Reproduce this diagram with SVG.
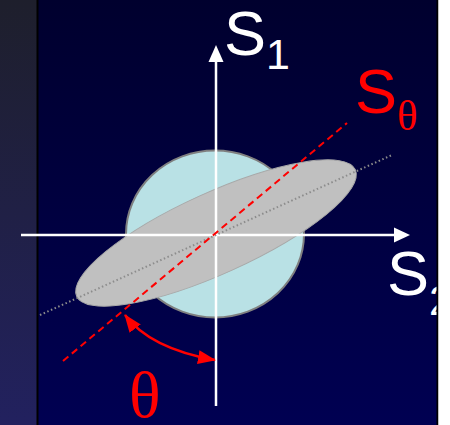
<svg xmlns="http://www.w3.org/2000/svg" width="450" height="425" viewBox="0 0 450 425">
<defs>
<linearGradient id="gLeft" x1="0" y1="0" x2="0" y2="1">
<stop offset="0" stop-color="#1e1f2c"/>
<stop offset="1" stop-color="#22215f"/>
</linearGradient>
<linearGradient id="gMain" x1="0" y1="0" x2="0" y2="1">
<stop offset="0" stop-color="#00002e"/>
<stop offset="1" stop-color="#000052"/>
</linearGradient>
<marker id="redHead" viewBox="0 0 18 14" refX="17" refY="7" markerWidth="18" markerHeight="14" markerUnits="userSpaceOnUse" orient="auto-start-reverse">
<path d="M0,0 L18,7 L0,14 z" fill="#ff0000"/>
</marker>
<style>
.axis{stroke:#ffffff;stroke-width:2.5;fill:none}
.head{fill:#ffffff}
.lbl{font-family:"Liberation Sans",Arial,sans-serif;font-size:63px}
.sub{font-size:43px}
.greek{font-family:"Liberation Serif","Times New Roman",serif}
</style>
</defs>
<rect x="0" y="0" width="450" height="425" fill="#ffffff"/>
<rect x="0" y="0" width="38" height="425" fill="url(#gLeft)"/>
<rect x="38" y="0" width="400" height="425" fill="url(#gMain)"/>
<rect x="36.5" y="0" width="2" height="425" fill="#000000"/>

<g id="circle">
<ellipse cx="215" cy="234" rx="89" ry="83.5" fill="#b9e1e5" stroke="#7f7f7f" stroke-width="2"/>
</g>
<g id="ellipse">
<ellipse cx="216" cy="233" rx="153" ry="40.5" transform="rotate(-24.4 216 233)" fill="#c0c0c0" stroke="#a8a8a8" stroke-width="1"/>
</g>

<g id="connectors">
<line class="axis" x1="21" y1="235" x2="397" y2="235"/>
<polygon class="head" points="410,235 394,227.5 394,242.5"/>
<line class="axis" x1="216" y1="406" x2="216" y2="60"/>
<polygon class="head" points="216,45 208.5,62 223.5,62"/>
<line x1="40" y1="315" x2="392" y2="155" stroke="#8c8c8c" stroke-width="2" stroke-dasharray="1.5 2.5"/>
<line x1="63" y1="361" x2="347" y2="123" stroke="#ff0000" stroke-width="2" stroke-dasharray="7 4.5"/>
<path d="M125,315 Q150,348.5 215,360" fill="none" stroke="#ff0000" stroke-width="2.5" marker-start="url(#redHead)" marker-end="url(#redHead)"/>
</g>

<g id="label-s1">
<text class="lbl" x="224" y="55" fill="#ffffff">S<tspan class="sub" dy="14">1</tspan></text>
</g>
<g id="label-stheta">
<text class="lbl" x="355" y="113" fill="#ff0000">S<tspan class="sub greek" dy="17">θ</tspan></text>
</g>
<g id="label-s2">
<text class="lbl" x="387" y="295" fill="#ffffff">S<tspan class="sub" dy="20">2</tspan></text>
</g>
<g id="label-theta">
<text class="greek" x="129" y="417" font-size="66" fill="#ff0000">θ</text>
</g>

<rect x="436.5" y="0" width="2" height="425" fill="#000000"/>
<rect x="438.5" y="0" width="11.5" height="425" fill="#ffffff"/>
</svg>
